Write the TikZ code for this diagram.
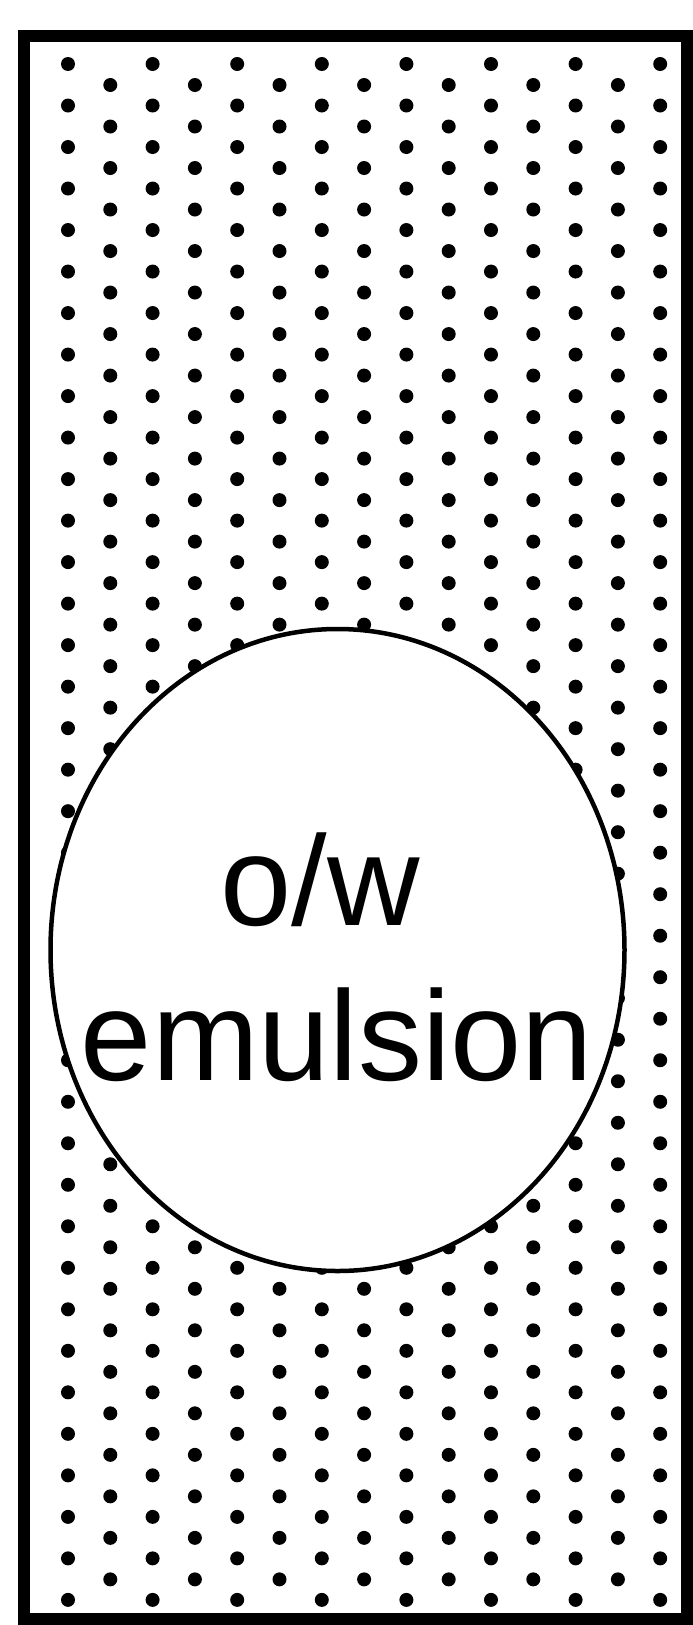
\documentclass[tikz,border=0pt]{standalone}
\usepackage{fontspec}
\setmainfont{Liberation Sans}
\tikzset{
  dotmark/.style={fill=black},
  frame/.style={draw=black, line width=12pt},
  drop/.style={draw=black, fill=white, line width=4.5pt},
  label/.style={anchor=base, inner sep=0pt, font=\fontsize{128}{140}\selectfont}
}
\begin{document}
\begin{tikzpicture}[x=1pt, y=-1pt]
\useasboundingbox (0,0) rectangle (693,1625);
% dot pattern
\foreach \j in {0,2,...,14} {
  \foreach \i in {0,...,37} {
    \fill[dotmark] ({68+42.3*\j},{64+41.51*\i}) circle (7);
  }
}
\foreach \j in {1,3,...,13} {
  \foreach \i in {0,...,36} {
    \fill[dotmark] ({68+42.3*\j},{85+41.51*\i}) circle (7);
  }
}
% frame
\draw[frame] (24,36) rectangle (687,1619);
% emulsion droplet
\draw[drop] (337.5,950) ellipse [x radius=287, y radius=321];
\node[label] (ow) at (320,925) {o/w};
\node[label] (em) at (337,1080) {emulsion};
\end{tikzpicture}
\end{document}
